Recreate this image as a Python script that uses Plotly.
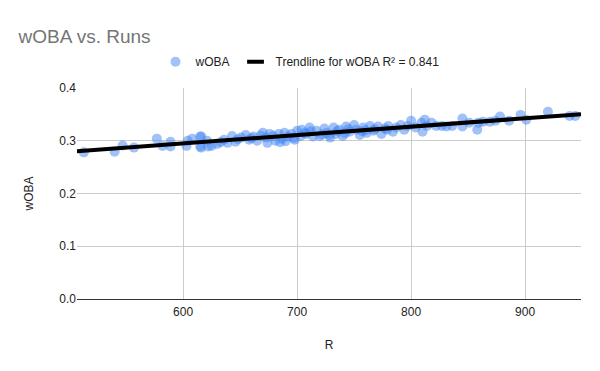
import numpy as np
import plotly.graph_objects as go

runs = [513, 540, 547, 557, 577, 582, 589, 589, 603, 604, 608, 615, 615, 622,
        616, 616, 621, 625, 630, 636, 639, 643, 646, 651, 655, 658, 662, 665,
        670, 673, 674, 676, 679, 681, 684, 687, 689, 692, 695, 698, 700, 703, 707,
        685, 690, 697, 668, 660, 648, 633,
        704, 708, 711, 714, 717, 720, 724, 726, 729, 732, 734, 737, 740, 743,
        746, 750, 752, 755, 758, 761, 764, 767, 771, 774, 777, 780, 784, 787,
        791, 794, 712, 722, 735, 745, 757, 768, 779, 728, 742, 760,
        797, 800, 804, 809, 810, 812, 814, 818, 822, 827, 831, 836, 845, 845,
        851, 858, 859, 863, 869, 874, 878, 886, 896, 901, 920, 939, 944]
woba = [0.278, 0.279, 0.291, 0.287, 0.304, 0.290, 0.298, 0.289, 0.290, 0.300, 0.304, 0.308, 0.289, 0.289,
        0.308, 0.287, 0.300, 0.290, 0.294, 0.302, 0.296, 0.309, 0.298, 0.306, 0.311, 0.302, 0.308, 0.300,
        0.315, 0.306, 0.296, 0.313, 0.309, 0.300, 0.313, 0.304, 0.315, 0.308, 0.313, 0.302, 0.319, 0.309, 0.315,
        0.297, 0.299, 0.305, 0.310, 0.305, 0.303, 0.297,
        0.321, 0.313, 0.325, 0.308, 0.319, 0.309, 0.323, 0.315, 0.306, 0.325, 0.313, 0.321, 0.309, 0.327,
        0.317, 0.330, 0.321, 0.311, 0.325, 0.315, 0.328, 0.319, 0.327, 0.313, 0.323, 0.328, 0.317, 0.325,
        0.330, 0.321, 0.318, 0.312, 0.318, 0.322, 0.318, 0.322, 0.321, 0.311, 0.314, 0.320,
        0.328, 0.338, 0.325, 0.334, 0.317, 0.340, 0.328, 0.334, 0.328, 0.328, 0.327, 0.328, 0.342, 0.327,
        0.334, 0.321, 0.334, 0.336, 0.336, 0.338, 0.346, 0.338, 0.349, 0.340, 0.355, 0.347, 0.347]

x_range = [507, 949]
y_ticks = [0.0, 0.1, 0.2, 0.3, 0.4]
x_ticks = [600, 700, 800, 900]
trend_label = "Trendline for wOBA R² = 0.841"

slope, intercept = np.polyfit(runs, woba, 1)
tx = np.array(x_range, dtype=float)
ty = slope * tx + intercept

fig = go.Figure()
fig.add_trace(go.Scatter(
    x=runs, y=woba, mode="markers", name="wOBA",
    marker=dict(color="rgba(66,133,244,0.5)", size=10, line=dict(width=0)),
))
fig.add_trace(go.Scatter(
    x=tx, y=ty, mode="lines", name=trend_label, showlegend=False, legendgroup="trend",
    line=dict(color="black", width=4),
))
# legend entry: short thick dash like the reference
fig.add_trace(go.Scatter(
    x=[None], y=[None], mode="markers", name=trend_label, legendgroup="trend",
    marker=dict(symbol="line-ew", size=12, color="black", line=dict(color="black", width=4)),
))

fig.update_layout(
    width=600, height=371,
    paper_bgcolor="white", plot_bgcolor="white",
    margin=dict(l=77, r=19, t=88, b=72, autoexpand=False),
    font=dict(family="Liberation Sans, Arial, sans-serif", size=12, color="#222222"),
    title=dict(text="wOBA vs. Runs", x=0.031, xanchor="left", xref="container",
               y=1 - 36.5 / 371, yanchor="middle", yref="container",
               font=dict(size=19, color="#757575")),
    legend=dict(orientation="h", x=0.5, xanchor="center", xref="container",
                y=1 - 61.7 / 371, yanchor="middle", yref="container",
                font=dict(size=12, color="#222222"), itemwidth=30),
    showlegend=True,
)
fig.update_xaxes(range=x_range, tickvals=x_ticks, showgrid=True, gridcolor="#cccccc",
                 zeroline=False, showline=False, ticks="", automargin=False,
                 ticklabelstandoff=4,
                 title=dict(text="R", font=dict(size=12, color="#222222"), standoff=22))
fig.update_yaxes(range=[0, 0.4], tickvals=y_ticks, tickformat=".1f", showgrid=True,
                 gridcolor="#cccccc", zeroline=True, zerolinecolor="#333333", zerolinewidth=1,
                 showline=False, ticks="", automargin=False,
                 title=dict(text="wOBA", font=dict(size=12, color="#222222"), standoff=23))

fig.write_html("out.html", config={"displayModeBar": False},
               post_script="document.body.style.margin='0';")
